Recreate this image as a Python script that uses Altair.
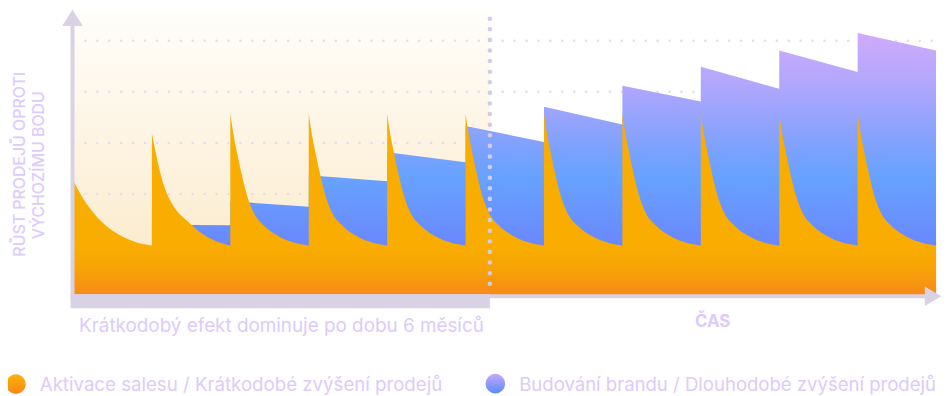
import altair as alt
import pandas as pd

# ---------------- data ----------------
n_cycles = 11
# position inside one campaign cycle (fraction of the cycle) and the sales level read there
cycle_offsets = [0.0, 0.05, 0.09, 0.14, 0.20, 0.30, 0.43, 0.61, 0.77, 1.0]
orange_cycle_first = [2.25, 2.11, 2.00, 1.87, 1.74, 1.55, 1.36, 1.18, 1.07, 0.99]
orange_cycle_second = [3.18, 2.80, 2.52, 2.23, 1.98, 1.71, 1.50, 1.26, 1.11, 0.99]
orange_cycle_rest = [3.57, 3.08, 2.78, 2.42, 2.04, 1.63, 1.38, 1.18, 1.07, 0.99]
sales_floor = 0.99

# brand building level at start / end of each cycle
blue_start = [0.90, 1.40, 1.86, 2.37, 2.82, 3.33, 3.71, 4.12, 4.49, 4.81, 5.15]
blue_end = [0.90, 1.39, 1.75, 2.25, 2.62, 3.02, 3.36, 3.81, 4.06, 4.39, 4.81]

gridlines = [2, 3, 4, 5]
short_term_end = 5.31
y_max = 5.612

y_title_1 = "RŮST PRODEJŮ OPROTI"
y_title_2 = "VÝCHOZÍMU BODU"
short_label = "Krátkodobý efekt dominuje po dobu 6 měsíců"
time_label = "ČAS"
legend_orange = "Aktivace salesu / Krátkodobé zvýšení prodejů"
legend_blue = "Budování brandu / Dlouhodobé zvýšení prodejů"

# ---------------- tables ----------------
orange_rows = []
for c in range(n_cycles):
    vals = orange_cycle_first if c == 0 else (orange_cycle_second if c == 1 else orange_cycle_rest)
    for o, v in zip(cycle_offsets, vals):
        orange_rows.append({"cycle": c, "x": c + o, "y": v})
orange_df = pd.DataFrame(orange_rows)

blue_rows = []
for c in range(n_cycles):
    blue_rows.append({"x": float(c), "y": blue_start[c]})
    blue_rows.append({"x": float(c + 1), "y": blue_end[c]})
blue_df = pd.DataFrame(blue_rows)

floor_df = pd.DataFrame({"x": [0.0, float(n_cycles)], "y": [sales_floor, sales_floor]})
bg_df = pd.DataFrame({"x": [0.0], "x2": [short_term_end], "y": [y_max], "y2": [0.0]})
grid_df = pd.DataFrame({"y": gridlines, "x": [0.0] * len(gridlines), "x2": [float(n_cycles)] * len(gridlines)})
split_df = pd.DataFrame({"x": [short_term_end], "x0": [0.0]})
one = pd.DataFrame({"k": [0]})

FONT = "Inter"
AXIS_C = "#d9d2e4"
TEXT_C = "#dccbfb"

XS = alt.Scale(domain=[0, n_cycles], nice=False, zero=False)
YS = alt.Scale(domain=[0, y_max], nice=False, zero=True)


def X(f="x"):
    return alt.X(f"{f}:Q", scale=XS, axis=None)


def Y(f="y"):
    return alt.Y(f"{f}:Q", scale=YS, axis=None, stack=None)


def vgrad(stops):
    return alt.LinearGradient(
        gradient="linear", x1=0, x2=0, y1=0, y2=1,
        stops=[alt.GradientStop(color=c, offset=o) for o, c in stops],
    )


background = alt.Chart(bg_df).mark_rect(
    color=vgrad([(0, "#fffefb"), (0.5, "#fdf3e0"), (1, "#fbe9c8")])
).encode(x=X(), x2="x2:Q", y=Y(), y2="y2:Q")

grid = alt.Chart(grid_df).mark_rule(
    strokeDash=[0.01, 12], strokeCap="round", strokeWidth=2.6, color="#e3ddef"
).encode(x=X(), x2="x2:Q", y=Y())

blue = alt.Chart(blue_df).mark_area(
    interpolate="linear",
    color=vgrad([(0, "#d0abfb"), (0.22, "#aca6fd"), (0.45, "#7aa1fe"), (0.55, "#67a2ff"), (0.81, "#6a87fd"), (1, "#6a80fd")]),
).encode(x=X(), y=Y())

orange = alt.Chart(orange_df).mark_area(
    interpolate="monotone", color="#f9ad00"
).encode(x=X(), y=Y(), detail="cycle:N")

floor = alt.Chart(floor_df).mark_area(
    color=vgrad([(0, "#f9ad00"), (0.45, "#f8a306"), (1, "#f6881a")])
).encode(x=X(), y=Y())

split = alt.Chart(split_df).mark_rule(
    strokeDash=[0.01, 10.67], strokeCap="round", strokeWidth=4.6, color="#d4cbe5"
).encode(x=X(), y=alt.value(9.3), y2=alt.value(285))

axis_band = alt.Chart(split_df).mark_rect(color=AXIS_C).encode(
    x=X("x0"), x2="x:Q", y=alt.value(287), y2=alt.value(301)
)

x_axis = alt.Chart(one).mark_rule(color=AXIS_C, strokeWidth=4).encode(
    x=alt.value(-3), x2=alt.value(860), y=alt.value(289)
)
y_axis = alt.Chart(one).mark_rule(color=AXIS_C, strokeWidth=4).encode(
    x=alt.value(-1), y=alt.value(14), y2=alt.value(301)
)
y_arrow = alt.Chart(one).mark_point(
    shape="M-1,0.77L0,-0.77L1,0.77Z", filled=True, size=440, color=AXIS_C, opacity=1, strokeWidth=0
).encode(x=alt.value(-1), y=alt.value(8.5))
x_arrow = alt.Chart(one).mark_point(
    shape="M-0.85,-1L0.85,0L-0.85,1Z", filled=True, size=380, color=AXIS_C, opacity=1, strokeWidth=0
).encode(x=alt.value(866), y=alt.value(289))


def label(txt, x, y, size, weight="normal", align="center", angle=0, color=TEXT_C):
    kw = dict(font=FONT, fontSize=size, fontWeight=weight, align=align, baseline="middle", color=color)
    if angle:
        kw["angle"] = angle
    return alt.Chart(pd.DataFrame({"t": [txt]})).mark_text(**kw).encode(
        x=alt.value(x), y=alt.value(y), text="t:N"
    )


yt1 = label(y_title_1, -54, 156, 16, weight=500, angle=270)
yt2 = label(y_title_2, -34.5, 157, 16, weight=500, angle=270)
short_txt = label(short_label, 209.5, 319, 19)
time_txt = label(time_label, 644, 315, 17, weight=700)
leg1_txt = label(legend_orange, -34, 378, 18.8, align="left")
leg2_txt = label(legend_blue, 449, 378, 18.7, align="left")

leg1_dot = alt.Chart(one).mark_point(
    shape="circle", filled=True, size=390, opacity=1, strokeWidth=0,
    color=vgrad([(0, "#fdb200"), (1, "#f6881a")]),
).encode(x=alt.value(-58), y=alt.value(377.5))
leg2_dot = alt.Chart(one).mark_point(
    shape="circle", filled=True, size=390, opacity=1, strokeWidth=0,
    color=vgrad([(0, "#c6a8fd"), (1, "#5b8afe")]),
).encode(x=alt.value(425), y=alt.value(377))

chart = alt.layer(
    background, grid, blue, orange, floor, split,
    axis_band, x_axis, y_axis, y_arrow, x_arrow,
    yt1, yt2, short_txt, time_txt, leg1_txt, leg2_txt, leg1_dot, leg2_dot,
).properties(
    width=869, height=289,
    autosize=alt.AutoSizeParams(type="none"),
    padding={"left": 66, "top": 0, "right": 6, "bottom": 99},
).configure_view(stroke=None)

chart.save("out.html", embed_options={"renderer": "svg", "actions": False})
